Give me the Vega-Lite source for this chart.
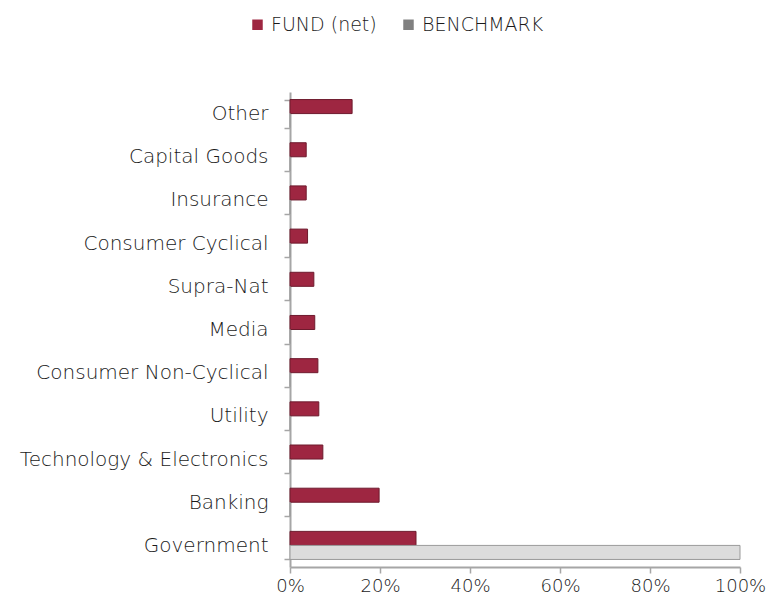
{
  "$schema": "https://vega.github.io/schema/vega-lite/v6.json",
  "width": 450,
  "height": 475,
  "autosize": {"type": "none"},
  "padding": {"left": 290, "top": 92, "right": 26, "bottom": 36},
  "background": "white",
  "config": {
    "view": {"stroke": null},
    "font": "DejaVu Sans",
    "axis": {"labelFont": "DejaVu Sans", "labelFontSize": 20, "labelFontWeight": 200, "labelColor": "#1a1a1a", "grid": false, "title": null},
    "legend": {"labelFont": "DejaVu Sans", "labelFontSize": 19, "labelFontWeight": 200, "labelColor": "#1a1a1a"}
  },
  "data": {
    "values": [
      {"sector": "Other", "series": "FUND (net)", "value": 13.8},
      {"sector": "Capital Goods", "series": "FUND (net)", "value": 3.6},
      {"sector": "Insurance", "series": "FUND (net)", "value": 3.6},
      {"sector": "Consumer Cyclical", "series": "FUND (net)", "value": 3.9},
      {"sector": "Supra-Nat", "series": "FUND (net)", "value": 5.3},
      {"sector": "Media", "series": "FUND (net)", "value": 5.5},
      {"sector": "Consumer Non-Cyclical", "series": "FUND (net)", "value": 6.2},
      {"sector": "Utility", "series": "FUND (net)", "value": 6.4},
      {"sector": "Technology & Electronics", "series": "FUND (net)", "value": 7.3},
      {"sector": "Banking", "series": "FUND (net)", "value": 19.8},
      {"sector": "Government", "series": "FUND (net)", "value": 28.0},
      {"sector": "Other", "series": "BENCHMARK", "value": 0},
      {"sector": "Capital Goods", "series": "BENCHMARK", "value": 0},
      {"sector": "Insurance", "series": "BENCHMARK", "value": 0},
      {"sector": "Consumer Cyclical", "series": "BENCHMARK", "value": 0},
      {"sector": "Supra-Nat", "series": "BENCHMARK", "value": 0},
      {"sector": "Media", "series": "BENCHMARK", "value": 0},
      {"sector": "Consumer Non-Cyclical", "series": "BENCHMARK", "value": 0},
      {"sector": "Utility", "series": "BENCHMARK", "value": 0},
      {"sector": "Technology & Electronics", "series": "BENCHMARK", "value": 0},
      {"sector": "Banking", "series": "BENCHMARK", "value": 0},
      {"sector": "Government", "series": "BENCHMARK", "value": 100}
    ]
  },
  "mark": {"type": "bar", "strokeWidth": 1},
  "encoding": {
    "y": {
      "field": "sector",
      "type": "nominal",
      "sort": ["Other", "Capital Goods", "Insurance", "Consumer Cyclical", "Supra-Nat", "Media", "Consumer Non-Cyclical", "Utility", "Technology & Electronics", "Banking", "Government"],
      "scale": {"paddingInner": 0.35, "paddingOuter": 0.175},
      "axis": {"tickBand": "extent", "domainColor": "#a6a6a6", "domainWidth": 2, "tickColor": "#a6a6a6", "tickWidth": 1.5, "tickSize": 6, "labelPadding": 16, "labelLimit": 400}
    },
    "yOffset": {"field": "series", "type": "nominal", "sort": ["FUND (net)", "BENCHMARK"]},
    "x": {
      "field": "value",
      "type": "quantitative",
      "scale": {"domain": [0, 100], "nice": false},
      "axis": {"values": [0, 20, 40, 60, 80, 100], "labelExpr": "datum.value + '%'", "labelFontSize": 18, "domainColor": "#a6a6a6", "domainWidth": 2, "tickColor": "#a6a6a6", "tickWidth": 1.5, "tickSize": 6, "labelPadding": 4, "labelFlush": false}
    },
    "color": {
      "condition": {"test": "datum.series === 'BENCHMARK'", "value": "#dcdcdc"},
      "field": "series",
      "type": "nominal",
      "sort": ["FUND (net)", "BENCHMARK"],
      "scale": {"domain": ["FUND (net)", "BENCHMARK"], "range": ["#9e2641", "#808080"]},
      "legend": {
        "title": null,
        "orient": "none",
        "direction": "horizontal",
        "legendX": -42,
        "legendY": -77,
        "symbolType": "square",
        "symbolSize": 110,
        "symbolStrokeWidth": 0,
        "columnPadding": 22,
        "labelOffset": 4,
        "values": ["FUND (net)", "BENCHMARK"]
      }
    },
    "stroke": {
      "field": "series",
      "type": "nominal",
      "scale": {"domain": ["FUND (net)", "BENCHMARK"], "range": ["#6e1a2d", "#9a9a9a"]},
      "legend": null
    }
  }
}
